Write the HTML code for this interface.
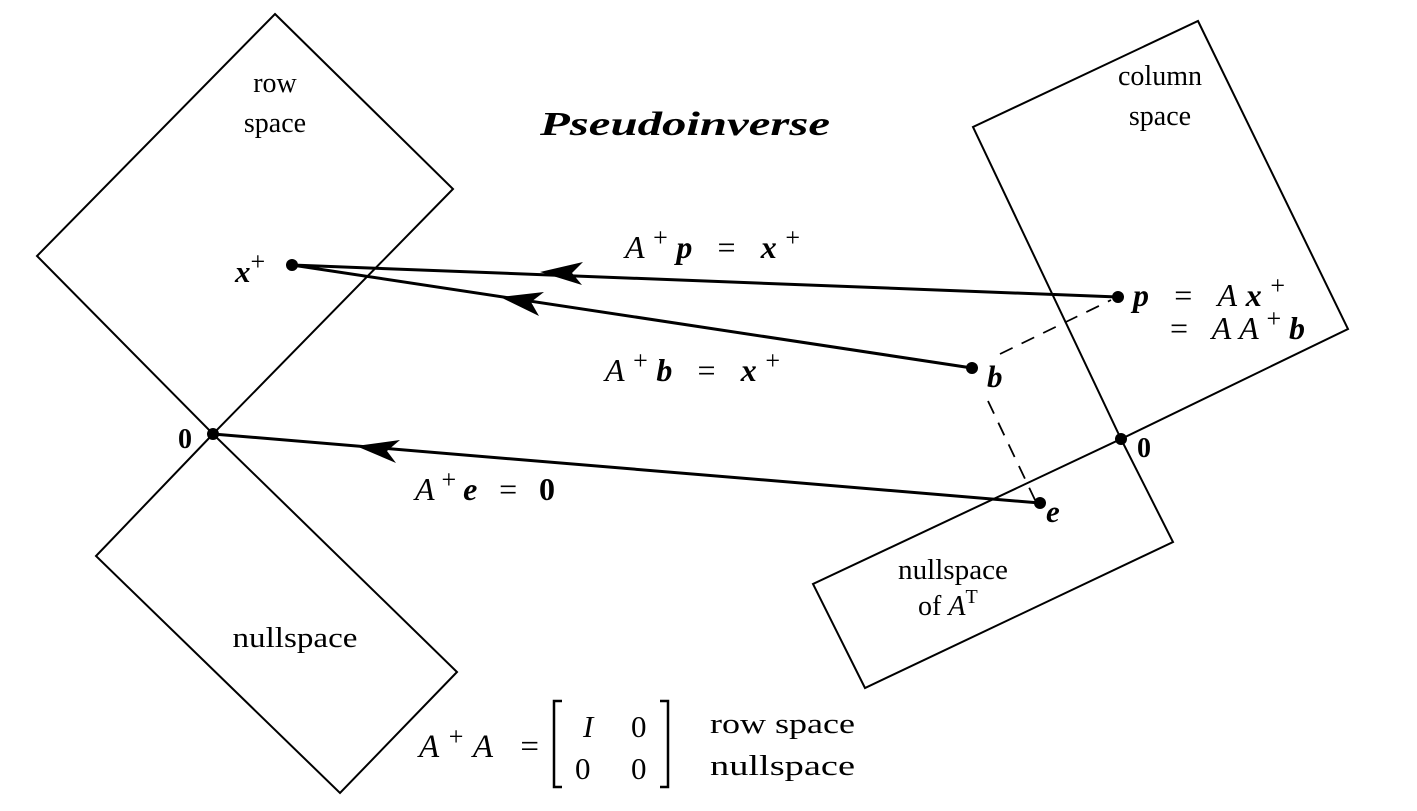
<!DOCTYPE html>
<html><head><meta charset="utf-8"><style>
html,body{margin:0;padding:0;background:#fff;}
svg{display:block}
text{font-family:"Liberation Serif",serif;fill:#000}
.m{font-style:italic;font-weight:bold}
.l{font-size:28px}
</style></head><body>
<svg width="1417" height="811" viewBox="0 0 1417 811" xmlns="http://www.w3.org/2000/svg">
<g fill="none" stroke="#000" stroke-width="2">
<polygon points="275,14 453,189 213,434 37,256"/>
<polygon points="213,434 96,556 340,793 457,672"/>
<polygon points="1198,21 1348,329 1121,439 973,127"/>
<polygon points="1121,439 1173,542 865,688 813,584"/>
</g>
<g fill="none" stroke="#000" stroke-width="1.8" stroke-dasharray="14,10">
<line x1="1000" y1="354" x2="1111" y2="300"/>
<line x1="988" y1="401" x2="1036" y2="502"/>
</g>
<g stroke="#000" stroke-width="3" fill="none">
<line x1="292" y1="265" x2="1118" y2="297"/>
<line x1="292" y1="265" x2="972" y2="368"/>
<line x1="213" y1="434" x2="1040" y2="503"/>
</g>
<g fill="#000">
<path d="M540,272 L583,262 L572,273 L582,285 Z"/>
<path d="M500,297 L544,292 L531,302 L539,316 Z"/>
<path d="M356,446 L400,440 L387,451 L396,463 Z"/>
<circle cx="292" cy="265" r="6"/>
<circle cx="1118" cy="297" r="6"/>
<circle cx="972" cy="368" r="6"/>
<circle cx="1040" cy="503" r="6"/>
<circle cx="213" cy="434" r="6"/>
<circle cx="1121" cy="439" r="6"/>
</g>
<text class="l" x="275" y="92" text-anchor="middle">row</text>
<text class="l" x="275" y="132" text-anchor="middle">space</text>
<text class="l" x="1160" y="85" text-anchor="middle">column</text>
<text class="l" x="1160" y="125" text-anchor="middle">space</text>
<text class="l" x="295" y="647" text-anchor="middle" textLength="125" lengthAdjust="spacingAndGlyphs">nullspace</text>
<text class="l" x="953" y="579" text-anchor="middle" textLength="110" lengthAdjust="spacingAndGlyphs">nullspace</text>
<text class="l" x="918" y="615">of <tspan font-style="italic">A</tspan><tspan font-size="20" dy="-12">T</tspan></text>
<text x="540" y="135" font-size="34" font-style="italic" font-weight="bold" textLength="290" lengthAdjust="spacingAndGlyphs">Pseudoinverse</text>
<text class="m" x="235" y="282" font-size="31">x<tspan font-size="26" dy="-12" font-weight="normal" font-style="normal">+</tspan></text>
<text x="178" y="448" font-size="28" font-weight="bold">0</text>
<text x="1137" y="457" font-size="28" font-weight="bold">0</text>
<text class="m" x="987" y="387" font-size="31">b</text>
<text class="m" x="1046" y="522" font-size="31">e</text>
<text x="625" y="258" font-size="32" font-style="italic" textLength="175" lengthAdjust="spacing">A<tspan font-size="26" dy="-12" font-style="normal">+</tspan><tspan dy="12" font-weight="bold">p</tspan><tspan font-style="normal"> = </tspan><tspan font-weight="bold">x</tspan><tspan font-size="26" dy="-12" font-style="normal">+</tspan></text>
<text x="605" y="381" font-size="32" font-style="italic" textLength="175" lengthAdjust="spacing">A<tspan font-size="26" dy="-12" font-style="normal">+</tspan><tspan dy="12" font-weight="bold">b</tspan><tspan font-style="normal"> = </tspan><tspan font-weight="bold">x</tspan><tspan font-size="26" dy="-12" font-style="normal">+</tspan></text>
<text x="415" y="500" font-size="32" font-style="italic" textLength="140" lengthAdjust="spacing">A<tspan font-size="26" dy="-12" font-style="normal">+</tspan><tspan dy="12" font-weight="bold">e</tspan><tspan font-style="normal"> = </tspan><tspan font-weight="bold" font-style="normal">0</tspan></text>
<text x="1133" y="306" font-size="32" font-style="italic" textLength="152" lengthAdjust="spacing"><tspan font-weight="bold">p</tspan><tspan font-style="normal"> = </tspan>A<tspan font-weight="bold">x</tspan><tspan font-size="26" dy="-12" font-style="normal">+</tspan></text>
<text x="1170" y="339" font-size="32" font-style="italic" textLength="135" lengthAdjust="spacing"><tspan font-style="normal">= </tspan>AA<tspan font-size="26" dy="-12" font-style="normal">+</tspan><tspan dy="12" font-weight="bold">b</tspan></text>
<text x="419" y="757" font-size="33" font-style="italic" textLength="120" lengthAdjust="spacing">A<tspan font-size="26" dy="-12" font-style="normal">+</tspan><tspan dy="12">A</tspan><tspan font-style="normal"> =</tspan></text>
<path d="M562,701 L554,701 L554,787 L562,787 M660,701 L668,701 L668,787 L660,787" fill="none" stroke="#000" stroke-width="2.5"/>
<text x="583" y="737" font-size="31" font-style="italic">I</text>
<text x="631" y="737" font-size="31">0</text>
<text x="575" y="779" font-size="31">0</text>
<text x="631" y="779" font-size="31">0</text>
<text class="l" x="710" y="733" textLength="145" lengthAdjust="spacingAndGlyphs">row space</text>
<text class="l" x="710" y="775" textLength="145" lengthAdjust="spacingAndGlyphs">nullspace</text>
</svg>
</body></html>
